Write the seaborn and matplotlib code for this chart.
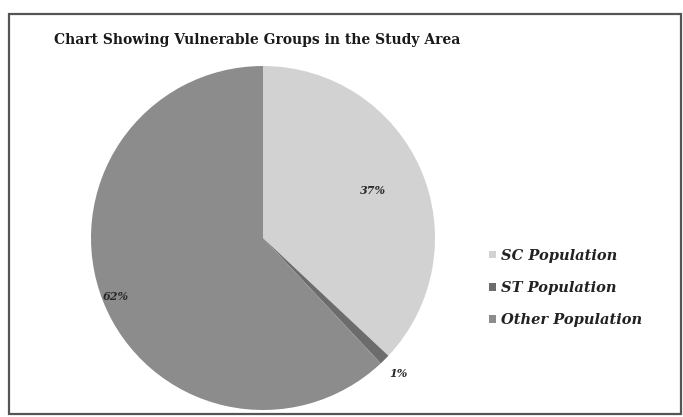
import numpy as np
import matplotlib
matplotlib.use("Agg")
import matplotlib.pyplot as plt
import seaborn as sns
from matplotlib.patches import Rectangle

groups = ["SC Population", "ST Population", "Other Population"]
shares = [37, 1, 62]
pct_labels = ["37%", "1%", "62%"]
colors = ["#d2d2d2", "#6c6c6c", "#8c8c8c"]
label_dist = [0.70, 1.11, 0.92]

sns.set_style("white")
plt.rcParams['font.family'] = ['DejaVu Serif']

W, H = 683, 417
fig = plt.figure(figsize=(W / 100, H / 100), dpi=100)

# pie axes: centre (263, 238) px, radius 172 px
cx, cy, r = 263, 238, 172
ax = fig.add_axes([(cx - r) / W, (H - cy - r) / H, 2 * r / W, 2 * r / H])
wedges, _ = ax.pie(shares, colors=colors, startangle=90, counterclock=False,
                   wedgeprops=dict(linewidth=0))
ax.set_xlim(-1, 1)
ax.set_ylim(-1, 1)
ax.set_aspect("equal")
ax.axis("off")

for w, lab, d in zip(wedges, pct_labels, label_dist):
    ang = np.deg2rad((w.theta1 + w.theta2) / 2)
    ax.text(d * np.cos(ang), d * np.sin(ang), lab, ha="center", va="center",
            fontsize=8, fontweight="bold", fontstyle="italic", color="#2a2a2a")

fig.text(257 / W, 1 - 40 / H, "Chart Showing Vulnerable Groups in the Study Area",
         ha="center", va="center", fontsize=10, fontweight="heavy", color="#1a1a1a")

leg = fig.legend(wedges, groups, loc="center left", bbox_to_anchor=(476 / W, 1 - 288 / H),
                 frameon=False, handlelength=0.45, handleheight=0.45, handletextpad=0.35,
                 labelspacing=1.25, prop=dict(size=10.5, weight="bold", style="italic"))
for t in leg.get_texts():
    t.set_color("#222222")

# outer frame
fig.patches.append(Rectangle((9 / W, 3 / H), 672 / W, 400 / H, transform=fig.transFigure,
                             fill=False, edgecolor="#555555", linewidth=1.6))

fig.savefig("out.png", dpi=100)
